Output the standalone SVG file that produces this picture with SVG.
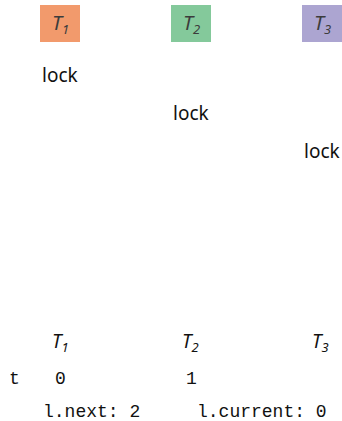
<svg xmlns="http://www.w3.org/2000/svg" width="342" height="421" viewBox="0 0 342 421">
<style>
.box{stroke:none}
.hdr{font-family:"Noto Sans","DejaVu Sans",sans-serif;font-style:italic;font-size:20px;fill:#3c3c3c}
.sub{font-size:13px}
.lock{font-family:"Noto Sans","DejaVu Sans",sans-serif;font-size:19px;fill:#111}
.lbl{font-family:"Noto Sans","DejaVu Sans",sans-serif;font-style:italic;font-size:19px;fill:#111}
.mono{font-family:"Liberation Mono","DejaVu Sans Mono",monospace;font-size:18px;fill:#111}
</style>
<rect width="342" height="421" fill="#ffffff"/>
<g id="T1">
<rect class="box" x="40" y="5" width="40" height="37" fill="#f29a6c"/>
<text class="hdr" x="52" y="30">T<tspan class="sub" dy="4">1</tspan></text>
</g>
<g id="T2">
<rect class="box" x="171" y="5" width="40" height="37" fill="#84c99b"/>
<text class="hdr" x="183" y="30">T<tspan class="sub" dy="4">2</tspan></text>
</g>
<g id="T3">
<rect class="box" x="302" y="5" width="40" height="37" fill="#aca5d1"/>
<text class="hdr" x="314" y="30">T<tspan class="sub" dy="4">3</tspan></text>
</g>
<g id="lock1"><text class="lock" x="42" y="82">lock</text></g>
<g id="lock2"><text class="lock" x="173" y="120">lock</text></g>
<g id="lock3"><text class="lock" x="304" y="158">lock</text></g>
<g id="connectors"></g>
<g id="table">
<text class="lbl" x="52" y="348">T<tspan class="sub" dy="4">1</tspan></text>
<text class="lbl" x="182" y="348">T<tspan class="sub" dy="4">2</tspan></text>
<text class="lbl" x="312" y="348">T<tspan class="sub" dy="4">3</tspan></text>
<text class="mono" x="9" y="384">t</text>
<text class="mono" x="55" y="384">0</text>
<text class="mono" x="186" y="384">1</text>
<text class="mono" x="43" y="417">l.next: 2</text>
<text class="mono" x="197" y="417">l.current: 0</text>
</g>
</svg>
